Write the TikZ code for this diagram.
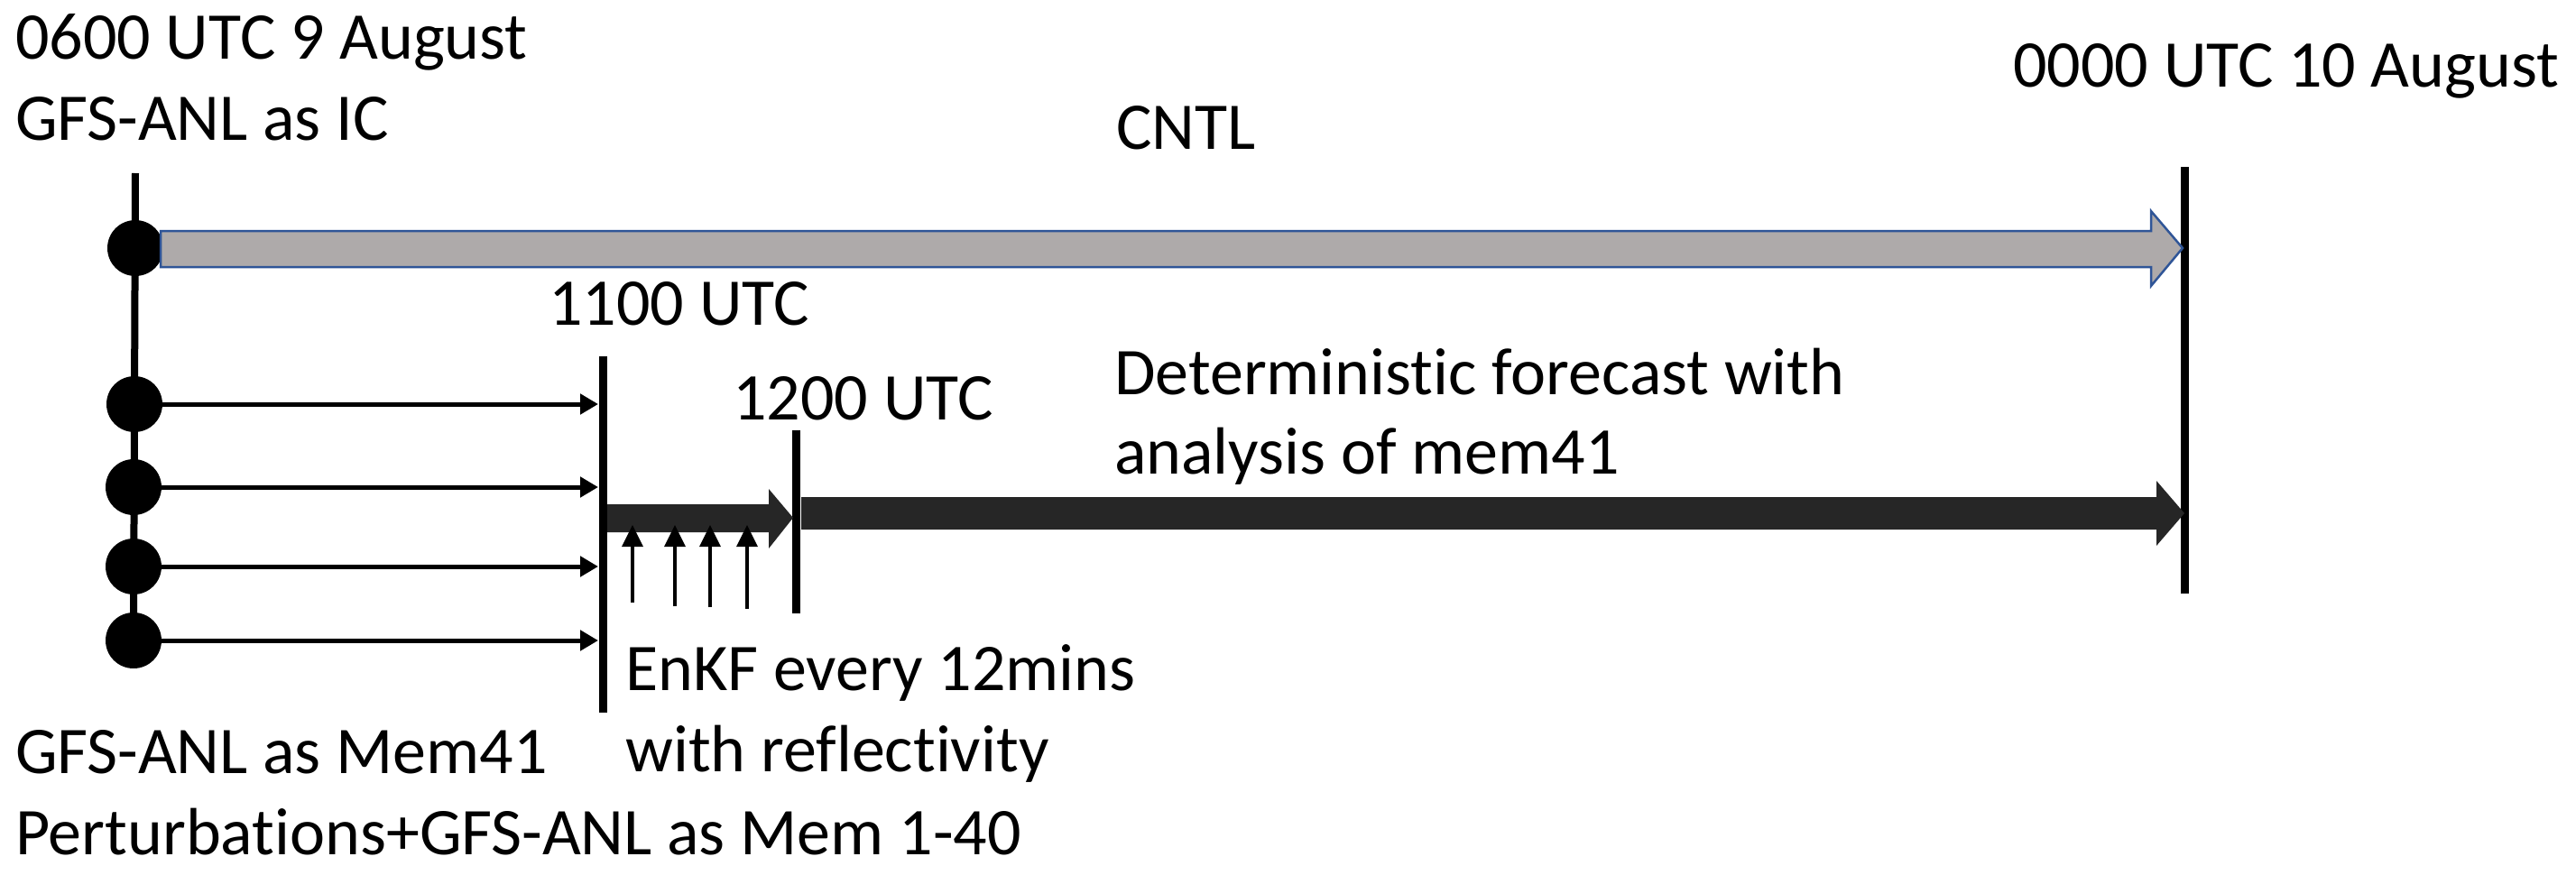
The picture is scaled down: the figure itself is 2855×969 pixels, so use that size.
\documentclass[tikz,border=0pt]{standalone}
\usepackage{fontspec}
\setmainfont{Carlito}[Ligatures={NoCommon,NoContextual}]
\usetikzlibrary{arrows.meta}
\definecolor{cntlgray}{HTML}{AEAAAA}
\definecolor{cntlblue}{HTML}{2F5597}
\definecolor{darkfill}{HTML}{262626}
\begin{document}
\begin{tikzpicture}[x=1pt,y=-1pt,
  lbl/.style={anchor=base west,inner sep=0pt,font=\fontsize{74}{90}\selectfont},
  dot/.style={circle,fill=black,minimum size=62pt,inner sep=0pt},
  timeline/.style={line width=9pt},
  memarrow/.style={line width=5pt,-{Triangle[length=20pt,width=22pt]}},
  obsarrow/.style={line width=3.5pt,-{Triangle[length=24pt,width=23pt]}}]
\useasboundingbox (0,0) rectangle (2855,969);
% labels
\node[lbl] (t0600) at (17,65) {0600 UTC 9 August};
\node[lbl] (tic) at (17,155) {GFS-ANL as IC};
\node[lbl] (tcntl) at (1237,165) {CNTL};
\node[lbl] (t0000) at (2231,96) {0000 UTC 10 August};
\node[lbl] (t1100) at (608,360) {1100 UTC};
\node[lbl] (t1200) at (812,465) {1200 UTC};
\node[lbl] (tdet1) at (1235,437) {Deterministic forecast with};
\node[lbl] (tdet2) at (1235,525) {analysis of mem41};
\node[lbl] (tenkf1) at (693,765) {EnKF every 12mins};
\node[lbl] (tenkf2) at (693,855) {with reflectivity};
\node[lbl] (tmem41) at (17,857) {GFS-ANL as Mem41};
\node[lbl] (tmem40) at (17,947) {Perturbations+GFS-ANL as Mem 1-40};
% time lines
\coordinate (m0) at (150,192);
\coordinate (a0) at (668,395);
\coordinate (a1) at (668,790);
\coordinate (b0) at (882,477);
\coordinate (b1) at (882,680);
\coordinate (c0) at (2421,185);
\coordinate (c1) at (2421,658);
\draw[timeline] (a0) -- (a1);
\draw[timeline] (b0) -- (b1);
\draw[timeline] (c0) -- (c1);
% dots
\node[dot] (d0) at (150,275) {};
\node[dot] (d1) at (149,448) {};
\node[dot] (d2) at (148,540) {};
\node[dot] (d3) at (148,628) {};
\node[dot] (d4) at (148,710) {};
\draw[line width=8pt] (m0) -- (d4.center);
% CNTL arrow
\draw[fill=cntlgray,draw=cntlblue,line width=2.5pt]
  (178,256) -- (2384,256) -- (2384,234) -- (2419,275) -- (2384,317)
  -- (2384,296) -- (178,296) -- cycle;
% member arrows
\coordinate (e1) at (663,448);
\coordinate (e2) at (663,540);
\coordinate (e3) at (663,628);
\coordinate (e4) at (663,710);
\draw[memarrow] (d1.east) -- (e1);
\draw[memarrow] (d2.east) -- (e2);
\draw[memarrow] (d3.east) -- (e3);
\draw[memarrow] (d4.east) -- (e4);
% EnKF arrow
\fill[darkfill] (673,559) -- (852,559) -- (852,542) -- (879,574) -- (852,608)
  -- (852,590) -- (673,590) -- cycle;
% deterministic forecast arrow
\fill[darkfill] (888,551) -- (2390,551) -- (2390,533) -- (2421,569) -- (2390,605)
  -- (2390,587) -- (888,587) -- cycle;
% observation arrows
\coordinate (o1s) at (701,668); \coordinate (o1e) at (701,582);
\coordinate (o2s) at (748,672); \coordinate (o2e) at (748,582);
\coordinate (o3s) at (787,673); \coordinate (o3e) at (787,582);
\coordinate (o4s) at (828,675); \coordinate (o4e) at (828,582);
\draw[obsarrow] (o1s) -- (o1e);
\draw[obsarrow] (o2s) -- (o2e);
\draw[obsarrow] (o3s) -- (o3e);
\draw[obsarrow] (o4s) -- (o4e);
\end{tikzpicture}
\end{document}
